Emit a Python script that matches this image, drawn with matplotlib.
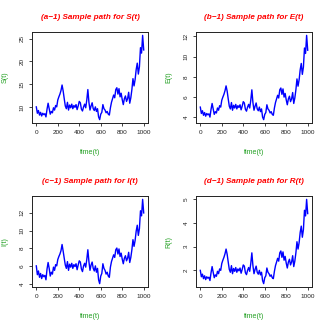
import matplotlib
matplotlib.use("Agg")
import matplotlib.pyplot as plt
import numpy as np

plt.rcParams['font.family'] = ['Liberation Sans', 'DejaVu Sans']

# time grid (every 10 units)
time_t = list(range(0, 1001, 10))

S_vals = [10.0, 8.6, 9.2, 8.2, 8.8, 8.0, 8.6, 8.3, 8.5, 7.8,
          9.5, 10.8, 9.6, 8.4, 9.0, 8.7, 9.8, 9.3, 10.3, 10.0,
          11.5, 12.2, 12.8, 13.6, 14.8, 13.5, 11.8, 10.2, 9.6, 11.0,
          9.3, 10.4, 9.8, 10.6, 9.6, 10.3, 9.9, 10.5, 9.4, 10.2,
          11.2, 10.9, 9.5, 9.1, 10.0, 10.6, 9.8, 11.5, 13.8, 11.0,
          9.3, 10.2, 10.9, 9.6, 9.2, 10.0, 9.0, 9.6, 7.8, 7.2,
          8.4, 8.8, 10.5, 9.6, 9.3, 8.7, 9.0, 8.4, 8.2, 9.8,
          11.0, 11.8, 12.6, 12.0, 13.8, 14.2, 12.8, 14.0, 12.2, 13.0,
          11.6, 10.5, 11.8, 12.4, 11.2, 11.8, 13.2, 10.8, 12.0, 13.8,
          16.2, 14.6, 16.0, 18.2, 19.6, 17.2, 18.8, 23.0, 21.8, 25.7,
          22.5]

E_vals = [5.00, 4.37, 4.64, 4.19, 4.46, 4.10, 4.37, 4.24, 4.33, 4.01,
          4.78, 5.36, 4.82, 4.28, 4.55, 4.42, 4.91, 4.69, 5.14, 5.00,
          5.68, 5.99, 6.26, 6.62, 7.10, 6.58, 5.81, 5.09, 4.82, 5.45,
          4.69, 5.18, 4.91, 5.27, 4.82, 5.14, 4.96, 5.23, 4.73, 5.09,
          5.54, 5.41, 4.78, 4.60, 5.00, 5.27, 4.91, 5.68, 6.71, 5.45,
          4.69, 5.09, 5.41, 4.82, 4.64, 5.00, 4.55, 4.82, 4.01, 3.76,
          4.28, 4.46, 5.23, 4.82, 4.69, 4.42, 4.55, 4.28, 4.19, 4.91,
          5.45, 5.81, 6.17, 5.90, 6.71, 6.89, 6.26, 6.80, 5.99, 6.35,
          5.72, 5.23, 5.81, 6.08, 5.54, 5.81, 6.44, 5.36, 5.90, 6.71,
          7.79, 7.07, 7.70, 8.69, 9.32, 8.24, 8.96, 10.85, 10.31, 12.10,
          10.63]

I_vals = [6.05, 5.06, 5.48, 4.77, 5.20, 4.63, 5.06, 4.84, 4.98, 4.49,
          5.70, 6.43, 5.77, 4.91, 5.34, 5.13, 5.91, 5.55, 6.19, 6.05,
          6.76, 7.10, 7.38, 7.76, 8.45, 7.71, 6.91, 6.15, 5.77, 6.53,
          5.55, 6.24, 5.91, 6.34, 5.77, 6.19, 5.98, 6.29, 5.62, 6.15,
          6.62, 6.48, 5.70, 5.41, 6.05, 6.34, 5.91, 6.76, 7.86, 6.53,
          5.55, 6.15, 6.48, 5.77, 5.48, 6.05, 5.34, 5.77, 4.49, 4.06,
          4.91, 5.20, 6.29, 5.77, 5.55, 5.13, 5.34, 4.91, 4.77, 5.91,
          6.53, 6.91, 7.29, 7.00, 7.86, 8.05, 7.38, 7.95, 7.10, 7.48,
          6.81, 6.29, 6.91, 7.19, 6.62, 6.91, 7.57, 6.43, 7.00, 7.86,
          8.99, 8.24, 8.90, 9.95, 10.61, 9.47, 10.23, 12.23, 11.66, 13.51,
          11.99]

R_vals = [2.00, 1.73, 1.84, 1.65, 1.77, 1.61, 1.73, 1.67, 1.71, 1.57,
          1.90, 2.16, 1.92, 1.69, 1.81, 1.75, 1.96, 1.86, 2.06, 2.00,
          2.29, 2.43, 2.55, 2.70, 2.90, 2.68, 2.35, 2.04, 1.92, 2.20,
          1.86, 2.08, 1.96, 2.12, 1.92, 2.06, 1.98, 2.10, 1.88, 2.04,
          2.23, 2.18, 1.90, 1.82, 2.00, 2.12, 1.96, 2.29, 2.74, 2.20,
          1.86, 2.04, 2.18, 1.92, 1.84, 2.00, 1.81, 1.92, 1.57, 1.44,
          1.69, 1.77, 2.10, 1.92, 1.86, 1.75, 1.81, 1.69, 1.65, 1.96,
          2.20, 2.35, 2.51, 2.39, 2.74, 2.82, 2.55, 2.78, 2.43, 2.59,
          2.31, 2.10, 2.35, 2.47, 2.23, 2.35, 2.62, 2.16, 2.39, 2.74,
          3.21, 2.90, 3.17, 3.60, 3.87, 3.40, 3.72, 4.54, 4.30, 5.00,
          4.40]

titles = ["(a\u22121) Sample path for S(t)", "(b\u22121) Sample path for E(t)",
          "(c\u22121) Sample path for I(t)", "(d\u22121) Sample path for R(t)"]
ylabels = ["S(t)", "E(t)", "I(t)", "R(t)"]
xlabel = "time(t)"
xticks = [0, 200, 400, 600, 800, 1000]
yticks_list = [[10, 15, 20, 25], [4, 6, 8, 10, 12], [4, 6, 8, 10, 12], [2, 3, 4, 5]]
series = [S_vals, E_vals, I_vals, R_vals]

W = H = 327
fig = plt.figure(figsize=(W / 100, H / 100), dpi=100)

# axes boxes in pixels: (left, top, right, bottom)
boxes = [(32, 32, 148, 123), (196, 32, 312, 123), (32, 196, 148, 287), (196, 196, 312, 287)]

green = '#22a022'
for k in range(4):
    l, t, r, b = boxes[k]
    ax = fig.add_axes([l / W, 1 - b / H, (r - l) / W, (b - t) / H])
    ax.plot(time_t, series[k], color='#0000ff', lw=1.0)
    ax.margins(x=0.04, y=0.04)
    ax.set_xticks(xticks)
    ax.set_yticks(yticks_list[k])
    ax.tick_params(axis='both', direction='out', length=2.2, width=0.6,
                   labelsize=4.6, colors='#222222', pad=3.0)
    for lab in ax.get_yticklabels():
        lab.set_rotation(90)
        lab.set_va('center')
    for sp in ax.spines.values():
        sp.set_linewidth(0.7)
        sp.set_color('#222222')
    ax.text(0.5, 1 + 14.5 / 91, titles[k], transform=ax.transAxes, ha='center', va='center',
            color='#ff0000', fontsize=5.9, fontweight='bold', fontstyle='italic')
    ax.set_xlabel(xlabel, color=green, fontsize=5.1)
    ax.xaxis.set_label_coords(0.5, -29 / 91)
    ax.xaxis.label.set_va('center')
    ax.set_ylabel(ylabels[k], color=green, fontsize=5.1)
    ax.yaxis.set_label_coords(-27.3 / 116, 0.5)
    ax.yaxis.label.set_va('center')

fig.savefig('out.png', dpi=100)
